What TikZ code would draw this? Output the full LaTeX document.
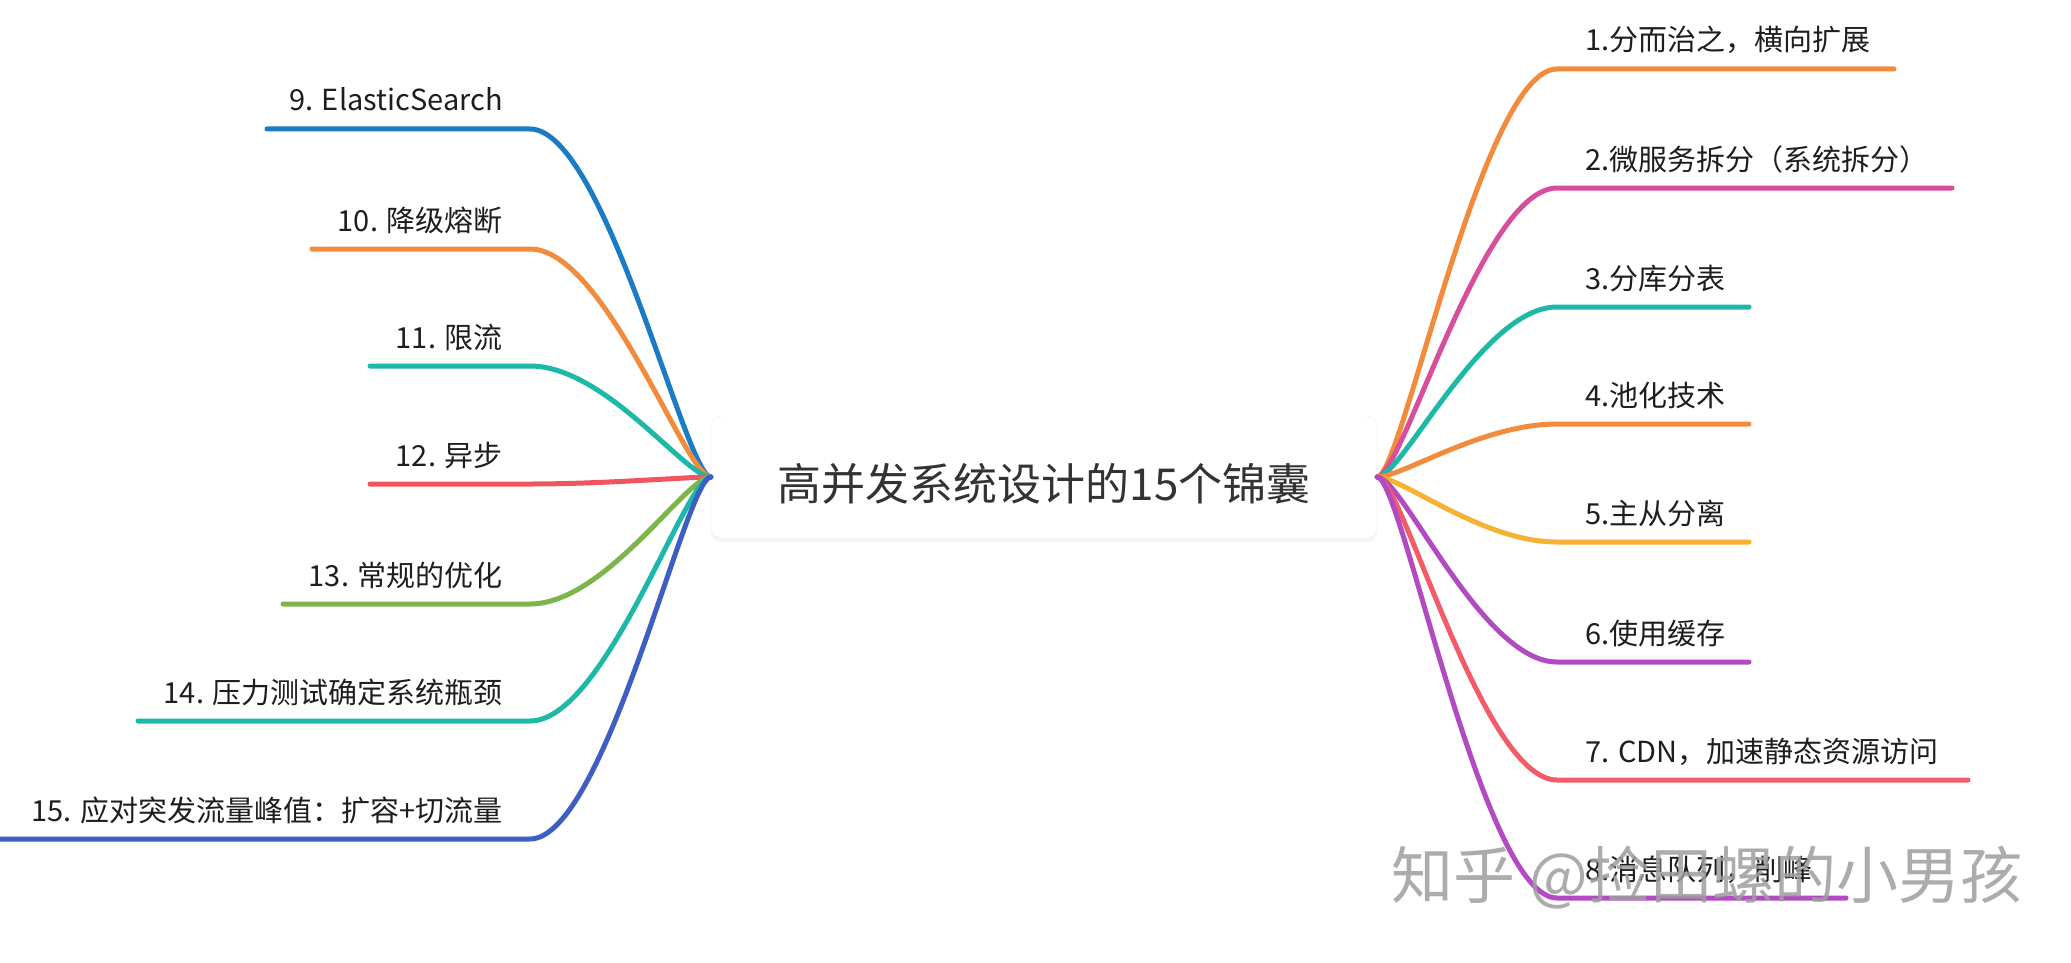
\documentclass[tikz,border=0pt]{standalone}
\usepackage{fontspec}
\setmainfont{Noto Sans CJK SC}
\usetikzlibrary{shadows}
\definecolor{cblue}{HTML}{1B7BC4}
\definecolor{corange}{HTML}{F28C3C}
\definecolor{cteal}{HTML}{1EB8A8}
\definecolor{cred}{HTML}{F0555F}
\definecolor{cgreen}{HTML}{7CB54A}
\definecolor{cindigo}{HTML}{3D5EC2}
\definecolor{cpink}{HTML}{D84E9E}
\definecolor{cyellow}{HTML}{F6B233}
\definecolor{cpurple}{HTML}{B24BC1}
\definecolor{csalmon}{HTML}{F25C69}
\definecolor{ctitle}{HTML}{333333}
\definecolor{clabel}{HTML}{1E1E1E}
\tikzset{
  branch/.style={line width=5pt, line cap=round},
  leftlabel/.style={anchor=base east, inner sep=0pt, text=clabel, font=\fontsize{29}{34}\selectfont},
  rightlabel/.style={anchor=base west, inner sep=0pt, text=clabel, font=\fontsize{29}{34}\selectfont},
  rootbox/.style={draw=black!8, fill=white, rounded corners=10pt, minimum width=666pt, minimum height=122pt,
    drop shadow={opacity=0.08, shadow xshift=0pt, shadow yshift=-4pt}},
}
\begin{document}
\begin{tikzpicture}[x=1pt,y=-1pt]
\useasboundingbox (0,0) rectangle (2071,963);
\fill[white] (0,0) rectangle (2071,963);

\node[rootbox] (root) at (1044,477) {};
\node[text=ctitle, font=\fontsize{44}{50}\selectfont, inner sep=0pt] (title) at (1044,484) {高并发系统设计的15个锦囊};

% left side
\foreach \n/\y/\xe/\col/\txt in {
  9/129/267/cblue/{9. ElasticSearch},
  10/249/312/corange/{10. 降级熔断},
  11/366/370/cteal/{11. 限流},
  12/484/370/cred/{12. 异步},
  13/604/283/cgreen/{13. 常规的优化},
  14/721/138/cteal/{14. 压力测试确定系统瓶颈},
  15/839/0/cindigo/{15. 应对突发流量峰值：扩容+切流量}}{
  \coordinate (b\n) at (530,\y);
  \coordinate (e\n) at (\xe,\y);
  \node[leftlabel] (l\n) at (503,\y-18) {\txt};
  \draw[branch, draw=\col] (root.west) .. controls +(-25,0) and +(75,0) .. (b\n) -- (e\n);
}

% right side
\foreach \n/\y/\xe/\col/\txt in {
  1/69/1894/corange/{1.分而治之，横向扩展},
  2/188/1952/cpink/{2.微服务拆分（系统拆分）},
  3/307/1749/cteal/{3.分库分表},
  4/424/1749/corange/{4.池化技术},
  5/542/1749/cyellow/{5.主从分离},
  6/662/1749/cpurple/{6.使用缓存},
  7/780/1968/csalmon/{7. CDN，加速静态资源访问},
  8/898/1846/cpurple/{8.消息队列，削峰}}{
  \coordinate (b\n) at (1557,\y);
  \coordinate (e\n) at (\xe,\y);
  \node[rightlabel] (l\n) at (1585,\y-18) {\txt};
  \draw[branch, draw=\col] (root.east) .. controls +(25,0) and +(-75,0) .. (b\n) -- (e\n);
}

% watermark
\node[text=black!38, opacity=0.85, font=\fontsize{62}{70}\selectfont, inner sep=0pt] (wm) at (1707,878) {知乎 @捡田螺的小男孩};
\end{tikzpicture}
\end{document}
